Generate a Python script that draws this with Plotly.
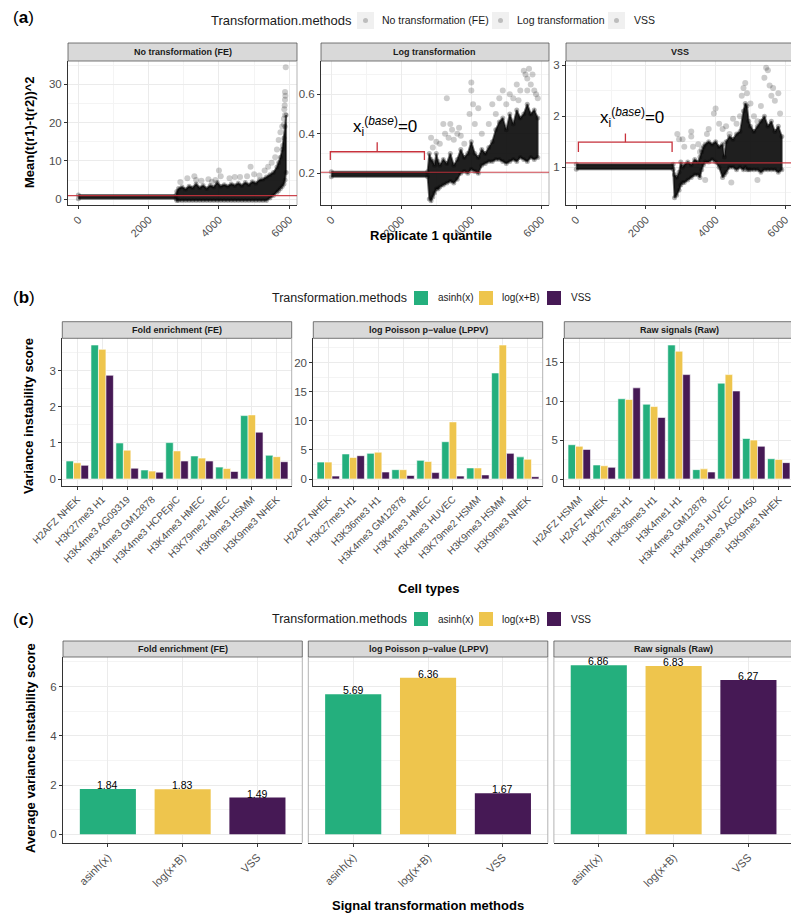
import plotly.graph_objects as go

# The page body has an 8px margin; the figure is sized to fill the rest of the window
OFF = 8
W, H = 799 - OFF, 916 - OFF
FONT = "Liberation Sans, Arial, Helvetica, sans-serif"
TICK_C = "#4D4D4D"
GRID = "#EBEBEB"
GRID_MINOR = "#F4F4F4"
AXIS_C = "#333333"
BORDER_C = "#B3B3B3"
RED = "#C8323C"
C_ASINH, C_LOG, C_VSS = "#24AF7D", "#EEC54D", "#461955"

# ---------------- (a) data: point cloud ----------------
a_panels = ["No transformation (FE)", "Log transformation", "VSS"]
a_hline = [0.94, 0.205, 1.085]

# dense core of the cloud (x knot, lower edge, upper edge)
fe_x = [0, 2780, 2800, 2850, 2950, 3050, 3150, 3250, 3350, 3450, 3550, 3650, 3750, 3850, 3950,
        4050, 4150, 4250, 4350, 4450, 4550, 4650, 4750, 4850, 4950, 5050, 5150, 5250, 5350,
        5450, 5550, 5650, 5700, 5750, 5800, 5850, 5880, 5910]
fe_hi = [1.1, 1.1, 2.0, 2.8, 3.2, 2.6, 3.4, 3.0, 4.0, 3.0, 3.6, 2.8, 3.6, 3.2, 4.4,
         3.4, 3.8, 3.4, 4.0, 3.6, 4.2, 3.6, 4.4, 3.8, 4.6, 4.2, 5.0, 5.2, 5.8,
         6.4, 7.0, 8.4, 9.5, 11.0, 13.0, 16.0, 19.0, 22.0]
fe_lo = [0.1, 0.1, -0.3, -0.3, -0.3, -0.3, -0.3, -0.3, -0.3, -0.3, -0.3, -0.3, -0.3, -0.3, -0.3,
         -0.3, -0.3, -0.3, -0.3, -0.3, -0.3, -0.3, -0.3, -0.3, -0.3, -0.3, -0.3, -0.3, -0.3,
         0.3, 1.0, 1.8, 2.3, 2.8, 3.3, 4.0, 5.0, 7.0]
fe_out_x = [2900, 3100, 3300, 3350, 3500, 3700, 3800, 3900, 4000, 4050, 4300, 4450, 4600, 4800,
            4900, 5000, 5150, 5300, 5400, 5500, 5600, 5650, 5700, 5750, 5800, 5850, 5860, 5870,
            5880, 5880, 5890, 5900, 5880, 5850, 5820]
fe_out_y = [4.5, 5.5, 6.0, 5.0, 4.8, 5.2, 4.6, 5.0, 7.5, 6.0, 5.5, 5.8, 5.8, 6.0,
            8.5, 6.5, 6.2, 7.5, 8.5, 9.5, 11.0, 13.0, 15.5, 17.5, 19.0, 21.0, 23.5, 24.5,
            26.0, 28.0, 27.0, 34.5, 22.0, 19.5, 14.0]

lg_x = [0, 2750, 2800, 2850, 2900, 2950, 3000, 3050, 3100, 3200, 3300, 3400, 3500, 3600, 3700,
        3800, 3900, 4000, 4100, 4200, 4300, 4400, 4500, 4600, 4700, 4800, 4900, 5000, 5100,
        5200, 5300, 5400, 5500, 5600, 5700, 5800, 5900]
lg_hi = [0.208, 0.208, 0.30, 0.27, 0.26, 0.24, 0.30, 0.26, 0.24, 0.27, 0.25, 0.30, 0.24, 0.27, 0.32,
         0.28, 0.30, 0.36, 0.30, 0.28, 0.32, 0.30, 0.33, 0.36, 0.42, 0.46, 0.48, 0.42, 0.50,
         0.45, 0.52, 0.48, 0.50, 0.55, 0.50, 0.52, 0.48]
lg_lo = [0.182, 0.182, 0.07, 0.06, 0.08, 0.10, 0.12, 0.12, 0.13, 0.14, 0.15, 0.16, 0.15, 0.17, 0.20,
         0.21, 0.20, 0.22, 0.21, 0.20, 0.24, 0.25, 0.26, 0.26, 0.27, 0.27, 0.26, 0.25, 0.26,
         0.27, 0.26, 0.28, 0.27, 0.26, 0.28, 0.27, 0.28]
lg_out_x = [2850, 2900, 3000, 3100, 3200, 3250, 3300, 3350, 3400, 3450, 3500, 3600, 3650, 3700,
            3800, 3950, 4000, 4000, 4050, 4100, 4200, 4300, 4500, 4600, 4700, 4800, 4900, 5000,
            5100, 5200, 5300, 5400, 5500, 5550, 5600, 5650, 5700, 5750, 5800, 5850, 5900, 5600, 5350]
lg_out_y = [0.38, 0.33, 0.36, 0.35, 0.45, 0.40, 0.58, 0.38, 0.45, 0.42, 0.37, 0.40, 0.43, 0.39,
            0.35, 0.50, 0.62, 0.66, 0.55, 0.45, 0.53, 0.40, 0.45, 0.55, 0.50, 0.58, 0.62, 0.55,
            0.60, 0.58, 0.65, 0.62, 0.72, 0.70, 0.68, 0.73, 0.65, 0.70, 0.62, 0.60, 0.58, 0.62, 0.57]

vs_x = [0, 2780, 2820, 2880, 2950, 3000, 3050, 3100, 3200, 3300, 3400, 3500, 3550, 3600, 3650,
        3700, 3800, 3900, 4000, 4100, 4200, 4250, 4300, 4400, 4500, 4600, 4700, 4800, 4850,
        4900, 4950, 5000, 5100, 5200, 5300, 5400, 5500, 5600, 5700, 5800, 5900]
vs_hi = [1.06, 1.06, 0.85, 0.80, 0.90, 1.10, 1.00, 1.05, 1.10, 1.05, 1.15, 1.10, 1.20, 1.30, 1.40,
         1.45, 1.50, 1.45, 1.50, 1.40, 1.45, 1.20, 1.50, 1.60, 1.55, 1.65, 1.70, 2.10, 2.25,
         2.20, 1.90, 1.80, 1.70, 1.80, 1.90, 2.00, 1.80, 1.90, 1.70, 1.80, 1.60]
vs_lo = [0.96, 0.96, 0.40, 0.45, 0.55, 0.65, 0.70, 0.70, 0.75, 0.80, 0.85, 0.85, 0.80, 0.95, 1.05,
         1.10, 1.10, 1.15, 1.10, 1.00, 0.80, 0.85, 0.90, 1.00, 1.00, 0.95, 1.00, 0.95, 1.00,
         0.95, 0.95, 0.95, 0.95, 0.95, 0.90, 0.95, 0.95, 0.95, 0.95, 0.90, 0.95]
vs_out_x = [2900, 2950, 3050, 3100, 3300, 3300, 3350, 3500, 3550, 3600, 3750, 3800, 3950, 4000,
            4100, 4200, 4300, 4400, 4500, 4600, 4700, 4750, 4800, 4850, 4900, 5000, 5100, 5200,
            5300, 5400, 5450, 5500, 5550, 5600, 5650, 5700, 5800, 5850, 5200, 4450, 3700]
vs_out_y = [1.65, 1.55, 1.55, 1.40, 1.70, 1.60, 1.40, 1.45, 1.30, 1.35, 1.65, 1.75, 2.05, 2.15,
            1.85, 1.75, 1.80, 1.65, 1.95, 1.85, 2.00, 2.40, 2.55, 2.65, 2.45, 2.25, 2.00, 1.90,
            2.20, 2.75, 2.95, 2.90, 2.60, 2.40, 2.55, 2.30, 2.45, 2.05, 0.75, 0.70, 0.75]

# baseline brackets (Log, VSS panels)
br_x0 = [-30, 60]
br_x1 = [2660, 2750]
br_xm = [1310, 1410]
br_y = [0.309, 1.49]
br_end = [0.267, 1.30]
br_top = [0.357, 1.66]
br_lab_x = [1530, 1590]
br_lab_y = [0.436, 1.98]

# ---------------- (b) data ----------------
methods = ["asinh(x)", "log(x+B)", "VSS"]
b_panels = ["Fold enrichment (FE)", "log Poisson p\u2212value (LPPV)", "Raw signals (Raw)"]
b_fe_cells = ["H2AFZ NHEK", "H3K27me3 H1", "H3K4me3 AG09319", "H3K4me3 GM12878", "H3K4me3 HCPEpiC",
              "H3K4me3 HMEC", "H3K79me2 HMEC", "H3K9me3 HSMM", "H3K9me3 NHEK"]
b_fe_asinh = [0.50, 3.72, 1.00, 0.25, 1.01, 0.64, 0.33, 1.76, 0.66]
b_fe_log = [0.45, 3.60, 0.80, 0.22, 0.78, 0.58, 0.29, 1.78, 0.62]
b_fe_vss = [0.38, 2.88, 0.30, 0.19, 0.50, 0.50, 0.21, 1.30, 0.48]

b_lppv_cells = ["H2AFZ NHEK", "H3K27me3 H1", "H3K36me3 H1", "H3K4me3 GM12878", "H3K4me3 HMEC",
                "H3K4me3 HUVEC", "H3K79me2 HSMM", "H3K9me3 HSMM", "H3K9me3 NHEK"]
b_lppv_asinh = [2.9, 4.3, 4.4, 1.6, 3.2, 6.4, 1.9, 18.2, 3.8]
b_lppv_log = [2.9, 3.7, 4.6, 1.6, 3.0, 9.8, 1.9, 23.0, 3.4]
b_lppv_vss = [0.5, 4.0, 1.2, 0.6, 1.1, 0.5, 0.7, 4.4, 0.4]

b_raw_cells = ["H2AFZ HSMM", "H2AFZ NHEK", "H3K27me3 H1", "H3K36me3 H1", "H3K4me1 H1",
               "H3K4me3 GM12878", "H3K4me3 HUVEC", "H3K9me3 AG04450", "H3K9me3 NHEK"]
b_raw_asinh = [4.4, 1.8, 10.3, 9.6, 17.2, 1.2, 12.3, 5.2, 2.6]
b_raw_log = [4.2, 1.7, 10.2, 9.3, 16.4, 1.3, 13.4, 5.0, 2.5]
b_raw_vss = [3.8, 1.5, 11.7, 7.9, 13.4, 0.9, 11.3, 4.2, 2.1]

# ---------------- (c) data ----------------
c_fe = [1.84, 1.83, 1.49]
c_lppv = [5.69, 6.36, 1.67]
c_raw = [6.86, 6.83, 6.27]


def X(p):
    return (p - OFF) / W


def Y(p):
    return 1 - (p - OFF) / H


fig = go.Figure()
layout = {}
shapes = []
annots = []


def names(i):
    s = "" if i == 1 else str(i)
    return "x" + s, "y" + s, "xaxis" + s, "yaxis" + s


def tf(size):
    return dict(family=FONT, color=TICK_C, size=size)


def panel(i, xs, top, bot, strip_top, title, xcfg, ycfg, strip_size=9):
    xr, yr, xk, yk = names(i)
    base = dict(showline=True, linecolor=AXIS_C, linewidth=1, ticks="outside", ticklen=3,
                tickcolor=AXIS_C, tickwidth=1, showgrid=True, gridcolor=GRID, gridwidth=1,
                zeroline=False, fixedrange=True, automargin=False)
    xa = dict(base)
    xa.update(domain=[X(xs[0]), X(xs[1])], anchor=yr)
    xa.update(xcfg)
    ya = dict(base)
    ya.update(domain=[Y(bot), Y(top)], anchor=xr)
    ya.update(ycfg)
    layout[xk] = xa
    layout[yk] = ya
    shapes.append(dict(type="rect", xref="paper", yref="paper", x0=X(xs[0]), x1=X(xs[1]),
                       y0=Y(top), y1=Y(strip_top), fillcolor="#D9D9D9",
                       line=dict(color="#555555", width=0.8), layer="above"))
    annots.append(dict(text=f"<b>{title}</b>", x=X((xs[0] + xs[1]) / 2), y=Y((strip_top + top) / 2),
                       xref="paper", yref="paper", showarrow=False, xanchor="center", yanchor="middle",
                       font=dict(family=FONT, size=strip_size, color="#1A1A1A")))
    shapes.append(dict(type="line", xref=f"{xr} domain", yref=f"{yr} domain", x0=1, x1=1, y0=0, y1=1,
                       line=dict(color=BORDER_C, width=1), layer="above"))
    return xr, yr


# ================= (a) =================
A_TOP, A_BOT, A_STRIP = 61, 205, 43
A_X = [(68, 297), (321, 549), (566, 793)]
a_data = [(fe_x, fe_lo, fe_hi, fe_out_x, fe_out_y), (lg_x, lg_lo, lg_hi, lg_out_x, lg_out_y),
          (vs_x, vs_lo, vs_hi, vs_out_x, vs_out_y)]
a_yrange = [[-1.5, 36.1], [0.039, 0.769], [0.26, 3.08]]
a_yticks = [[0, 10, 20, 30], [0.2, 0.4, 0.6], [1, 2, 3]]
a_yminor = [[5, 15, 25, 35], [0.1, 0.3, 0.5, 0.7], [0.5, 1.5, 2.5]]
a_yticktext = [["0", "10", "20", "30"], ["0.2", "0.4", "0.6"], ["1", "2", "3"]]

for k in range(3):
    kx, lo, hi, ox, oy = a_data[k]
    xr, yr = panel(
        k + 1, A_X[k], A_TOP, A_BOT, A_STRIP, a_panels[k],
        dict(range=[-296, 6221], tickmode="array", tickvals=[0, 2000, 4000, 6000],
             ticktext=["0", "2000", "4000", "6000"], tickangle=-45, tickfont=tf(11),
             minor=dict(tickmode="array", tickvals=[1000, 3000, 5000], showgrid=True,
                        gridcolor=GRID_MINOR, ticks="")),
        dict(range=a_yrange[k], tickmode="array", tickvals=a_yticks[k], ticktext=a_yticktext[k],
             tickfont=tf(11.5),
             minor=dict(tickmode="array", tickvals=a_yminor[k], showgrid=True,
                        gridcolor=GRID_MINOR, ticks="")))
    fig.add_trace(go.Scatter(x=ox, y=oy, mode="markers", name=a_panels[k],
                             marker=dict(size=6, color="rgba(0,0,0,0.2)"),
                             xaxis=xr, yaxis=yr, showlegend=False))
    fig.add_trace(go.Scatter(x=kx + kx, y=hi + lo, mode="markers",
                             marker=dict(size=5, color="rgba(0,0,0,0.3)"),
                             xaxis=xr, yaxis=yr, showlegend=False, hoverinfo="skip"))
    fig.add_trace(go.Scatter(x=kx + kx[::-1], y=hi + lo[::-1], mode="lines", fill="toself",
                             fillcolor="rgba(0,0,0,0.88)", line=dict(color="rgba(0,0,0,0.55)", width=2),
                             xaxis=xr, yaxis=yr, showlegend=False, hoverinfo="skip"))
    shapes.append(dict(type="line", xref=f"{xr} domain", yref=yr, x0=0, x1=1, y0=a_hline[k], y1=a_hline[k],
                       line=dict(color=RED, width=1.2), opacity=0.9, layer="above"))

# brackets
for j, k in enumerate([1, 2]):
    xr, yr, _, _ = names(k + 1)
    fig.add_trace(go.Scatter(x=[br_x0[j], br_x0[j], br_x1[j], br_x1[j]],
                             y=[br_end[j], br_y[j], br_y[j], br_end[j]], mode="lines",
                             line=dict(color=RED, width=1.3), xaxis=xr, yaxis=yr,
                             showlegend=False, hoverinfo="skip"))
    fig.add_trace(go.Scatter(x=[br_xm[j], br_xm[j]], y=[br_y[j], br_top[j]], mode="lines",
                             line=dict(color=RED, width=1.3), xaxis=xr, yaxis=yr,
                             showlegend=False, hoverinfo="skip"))
    annots.append(dict(text="x<sub>i</sub><sup>(<i>base</i>)</sup>=0", x=br_lab_x[j], y=br_lab_y[j],
                       xref=xr, yref=yr, showarrow=False, xanchor="center", yanchor="middle",
                       font=dict(family=FONT, size=17, color="black")))

# ================= (b) =================
B_TOP, B_BOT, B_STRIP = 338.3, 485.7, 321.7
B_X = [(62.3, 291.7), (313.3, 542.7), (564.3, 793.7)]
b_data = [(b_fe_cells, [b_fe_asinh, b_fe_log, b_fe_vss]),
          (b_lppv_cells, [b_lppv_asinh, b_lppv_log, b_lppv_vss]),
          (b_raw_cells, [b_raw_asinh, b_raw_log, b_raw_vss])]
b_yrange = [[-0.186, 3.906], [-1.15, 24.15], [-0.86, 18.06]]
b_dtick = [1, 5, 5]
colors = [C_ASINH, C_LOG, C_VSS]
offsets = [-0.45, -0.15, 0.15]
for k in range(3):
    cells, vals = b_data[k]
    xr, yr = panel(
        k + 4, B_X[k], B_TOP, B_BOT, B_STRIP, b_panels[k],
        dict(type="category", range=[-0.6, 8.6], tickangle=-45, tickfont=tf(10)),
        dict(range=b_yrange[k], tick0=0, dtick=b_dtick[k], tickfont=tf(11.5),
             minor=dict(dtick=b_dtick[k] / 2, tick0=0, showgrid=True, gridcolor=GRID_MINOR, ticks="")))
    for m in range(3):
        fig.add_trace(go.Bar(x=cells, y=vals[m], width=0.3, offset=offsets[m], name=methods[m],
                             marker=dict(color=colors[m], line=dict(color="white", width=0.6)),
                             xaxis=xr, yaxis=yr, showlegend=False))

# ================= (c) =================
C_TOP, C_BOT, C_STRIP = 657, 842.7, 641
C_X = [(63, 302.3), (308.3, 547.8), (553.9, 793.3)]
c_data = [c_fe, c_lppv, c_raw]
for k in range(3):
    ycfg = dict(range=[-0.343, 7.2], tick0=0, dtick=2, tickfont=tf(11.5),
                minor=dict(dtick=1, tick0=0, showgrid=True, gridcolor=GRID_MINOR, ticks=""))
    if k > 0:
        ycfg.update(showticklabels=False, ticks="", showline=False)
    xr, yr = panel(k + 7, C_X[k], C_TOP, C_BOT, C_STRIP, b_panels[k],
                   dict(type="category", range=[-0.6, 2.6], tickangle=-45, tickfont=tf(11)), ycfg)
    if k > 0:
        shapes.append(dict(type="line", xref=f"{xr} domain", yref=f"{yr} domain", x0=0, x1=0, y0=0, y1=1,
                           line=dict(color=BORDER_C, width=1), layer="above"))
    fig.add_trace(go.Bar(x=methods, y=c_data[k], width=0.75, marker=dict(color=colors, line=dict(width=0)),
                         xaxis=xr, yaxis=yr, showlegend=False))
    for m in range(3):
        annots.append(dict(text=f"{c_data[k][m]:.2f}", x=methods[m], y=c_data[k][m], xref=xr, yref=yr,
                           showarrow=False, xanchor="center", yanchor="bottom", yshift=-4,
                           font=dict(family=FONT, size=10.5, color="black")))

# ================= legends (drawn) =================
# (a)
annots.append(dict(text="Transformation.methods", x=X(209), y=Y(20.5), xref="paper", yref="paper",
                   showarrow=False, xanchor="left", yanchor="middle",
                   font=dict(family=FONT, size=13, color="#1A1A1A")))
a_key_x = [357, 492, 608]
a_lab_x = [380, 515, 632]
for k in range(3):
    shapes.append(dict(type="rect", xref="paper", yref="paper", x0=X(a_key_x[k]), x1=X(a_key_x[k] + 17),
                       y0=Y(29), y1=Y(12), fillcolor="#F0F0F0", line=dict(width=0)))
    cx = a_key_x[k] + 8.5
    shapes.append(dict(type="circle", xref="paper", yref="paper", x0=X(cx - 2.5), x1=X(cx + 2.5),
                       y0=Y(23), y1=Y(18), fillcolor="#BDBDBD", line=dict(width=0)))
    annots.append(dict(text=a_panels[k], x=X(a_lab_x[k]), y=Y(20.5), xref="paper", yref="paper",
                       showarrow=False, xanchor="left", yanchor="middle",
                       font=dict(family=FONT, size=10.5, color="#1A1A1A")))

# (b) and (c)
key_x = [414, 479, 547]
lab_x = [436, 500, 569]
for cy in [298, 619]:
    annots.append(dict(text="Transformation.methods", x=X(270), y=Y(cy), xref="paper", yref="paper",
                       showarrow=False, xanchor="left", yanchor="middle",
                       font=dict(family=FONT, size=12.5, color="#1A1A1A")))
    for k in range(3):
        shapes.append(dict(type="rect", xref="paper", yref="paper", x0=X(key_x[k]), x1=X(key_x[k] + 14),
                           y0=Y(cy + 7), y1=Y(cy - 7), fillcolor=colors[k], line=dict(width=0)))
        annots.append(dict(text=methods[k], x=X(lab_x[k]), y=Y(cy), xref="paper", yref="paper",
                           showarrow=False, xanchor="left", yanchor="middle",
                           font=dict(family=FONT, size=10, color="#1A1A1A")))

# ================= panel letters & axis titles =================
for lab, yy in [("a", 18), ("b", 297), ("c", 619)]:
    annots.append(dict(text=f"(<b>{lab}</b>)", x=X(11), y=Y(yy), xref="paper", yref="paper",
                       showarrow=False, xanchor="left", yanchor="middle",
                       font=dict(family=FONT, size=17, color="black")))

titles = [("Mean(t(r1)-t(r2))^2", 30, 132, -90), ("Replicate 1 quantile", 431, 235, 0),
          ("Variance instability score", 29, 416, -90), ("Cell types", 428, 588, 0),
          ("Average variance instability score", 30, 748, -90), ("Signal transformation methods", 428, 905, 0)]
for t, xx, yy, ang in titles:
    annots.append(dict(text=f"<b>{t}</b>", x=X(xx), y=Y(yy), xref="paper", yref="paper", showarrow=False,
                       xanchor="center", yanchor="middle", textangle=ang,
                       font=dict(family=FONT, size=13, color="black")))

fig.update_layout(template="none", width=W, height=H, margin=dict(l=0, r=0, t=0, b=0, pad=0),
                  autosize=False, paper_bgcolor="white", plot_bgcolor="white", showlegend=False,
                  barmode="overlay", font=dict(family=FONT), shapes=shapes, annotations=annots, **layout)

fig.write_html("out.html")
